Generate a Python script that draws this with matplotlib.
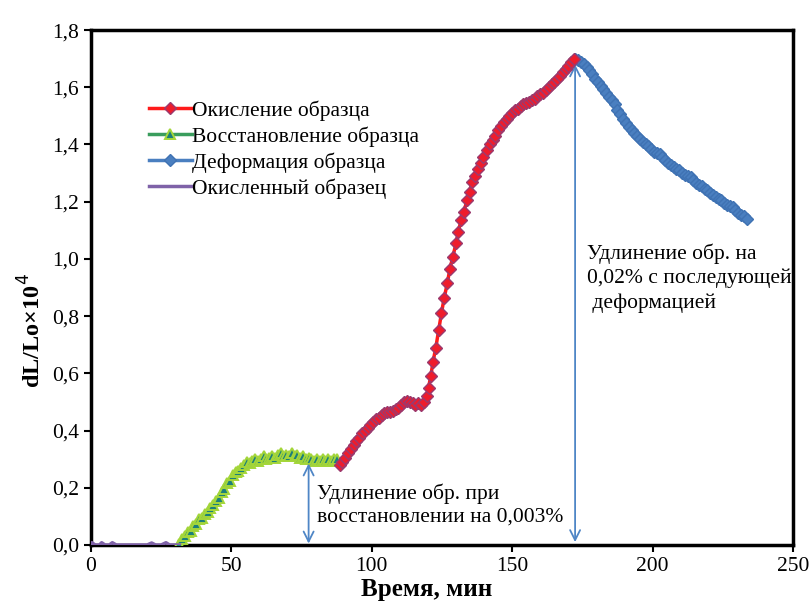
import numpy as np
import matplotlib
matplotlib.use('Agg')
import matplotlib.pyplot as plt

plt.rcParams['font.family'] = ['Liberation Serif', 'DejaVu Serif']

# ---- data ----
purple_t = [0, 0.3, 1.5, 3, 3.8, 5, 6.5, 7.6, 9, 12, 16, 20, 21.6, 23, 25, 26.7, 28, 30, 31.5]
purple_y = [0.0, 0.008, 0.0, 0.0, 0.008, 0.0, 0.0, 0.008, 0.0, 0.0, 0.0, 0.0, 0.007, 0.0, 0.0, 0.008, 0.0, 0.0, 0.0]

green_t = [31.5, 32.5, 33.5, 34.5, 35.5, 36.5, 37.5, 38.5, 39.5, 40.5, 41.5, 42.5, 43.5, 44.5,
           45.5, 46.5, 47.5, 48.5, 49.5, 50.5, 51.5, 52.5, 53.5, 54.5, 55.5, 56.5, 57.5, 58.5,
           59.5, 60.5, 61.5, 62.5, 63.5, 64.5, 65.5, 66.5, 67.5, 68.5, 69.5, 70.5, 71.5, 72.5,
           73.5, 74.5, 75.5, 76.5, 77.5, 78.5, 79.5, 80.5, 81.5, 82.5, 83.5, 84.5, 85.5, 86.5, 87.5]
green_y = [0.005, 0.02, 0.03, 0.045, 0.05, 0.065, 0.075, 0.09, 0.095, 0.11, 0.115, 0.13, 0.14, 0.155,
           0.165, 0.185, 0.195, 0.215, 0.225, 0.245, 0.255, 0.26, 0.27, 0.28, 0.29, 0.285, 0.295, 0.30,
           0.295, 0.30, 0.31, 0.30, 0.305, 0.31, 0.305, 0.315, 0.32, 0.31, 0.315, 0.31, 0.32, 0.31,
           0.315, 0.305, 0.31, 0.30, 0.305, 0.30, 0.295, 0.30, 0.295, 0.30, 0.295, 0.30, 0.295, 0.30, 0.30]

red_t = [88.5, 89.5, 90.5, 91.5, 92.5, 93.5, 94.5, 95.5, 96.5, 97.5, 98.5, 99.5, 100.5, 101.5,
         102.5, 103.5, 104.5, 105.5, 106.5, 107.5, 108.5, 109.5, 110.5, 111.5, 112.5, 113.5,
         114.5, 115.5, 116.5, 117.5, 118.5, 119.5, 120.2, 121.0, 121.8, 122.8, 123.8, 124.8,
         125.8, 126.9, 127.8, 128.8, 130.0, 130.8, 131.8, 132.8, 133.9, 134.8, 135.8, 136.9,
         137.9, 138.8, 139.7, 141, 142, 143, 144, 145, 146, 147, 148, 149, 150, 151, 152, 153,
         154, 155, 156, 157, 158, 159, 160, 161, 162, 163, 164, 165, 166, 167, 168, 169, 170, 171, 172]
red_y = [0.28, 0.29, 0.305, 0.32, 0.335, 0.35, 0.365, 0.375, 0.39, 0.40, 0.41, 0.42, 0.43, 0.44,
         0.445, 0.455, 0.46, 0.465, 0.465, 0.47, 0.475, 0.48, 0.49, 0.50, 0.505, 0.50,
         0.495, 0.49, 0.495, 0.49, 0.50, 0.52, 0.55, 0.59, 0.64, 0.69, 0.75, 0.81,
         0.865, 0.915, 0.965, 1.005, 1.055, 1.095, 1.135, 1.165, 1.205, 1.235, 1.27, 1.29,
         1.315, 1.335, 1.355, 1.38, 1.40, 1.415, 1.43, 1.45, 1.465, 1.48, 1.49, 1.50, 1.51, 1.52, 1.525, 1.535,
         1.54, 1.545, 1.55, 1.555, 1.56, 1.57, 1.575, 1.58, 1.59, 1.60, 1.61, 1.62, 1.63, 1.64, 1.655, 1.665, 1.675, 1.69, 1.70]

blue_t = [172.5, 173.5, 174.5, 175.5, 176.5, 177.5, 178.5, 179.5, 180.5, 181.5, 182.5, 183.5,
          184.5, 185.5, 186.5, 187.5, 188.5, 189.5, 190.5, 191.5, 192.5, 193.5, 194.5, 195.5,
          196.5, 197.5, 198.5, 199.5, 200.5, 201.5, 202.5, 203.5, 204.5, 205.5, 206.5, 207.5,
          208.5, 209.5, 210.5, 211.5, 212.5, 213.5, 214.5, 215.5, 216.5, 217.5, 218.5, 219.5,
          220.5, 221.5, 222.5, 223.5, 224.5, 225.5, 226.5, 227.5, 228.5, 229.5, 230.5, 231.5, 232.5, 233.5]
blue_y = [1.70, 1.695, 1.69, 1.68, 1.67, 1.66, 1.645, 1.63, 1.62, 1.605, 1.595, 1.58,
          1.565, 1.555, 1.54, 1.52, 1.505, 1.49, 1.475, 1.46, 1.45, 1.44, 1.43, 1.42,
          1.41, 1.40, 1.395, 1.385, 1.375, 1.37, 1.365, 1.355, 1.345, 1.335, 1.33, 1.32,
          1.315, 1.31, 1.30, 1.295, 1.29, 1.285, 1.275, 1.265, 1.26, 1.255, 1.245, 1.24,
          1.23, 1.225, 1.215, 1.21, 1.205, 1.195, 1.19, 1.185, 1.18, 1.17, 1.16, 1.155, 1.15, 1.14]

x_ticks = [0, 50, 100, 150, 200, 250]
y_ticks = [0.0, 0.2, 0.4, 0.6, 0.8, 1.0, 1.2, 1.4, 1.6, 1.8]

## PLOTTING
fig = plt.figure(figsize=(8.11, 6.01), dpi=100)
ax = fig.add_axes([0.1122, 0.0932, 0.8656, 0.8568])

ax.plot(red_t, red_y, color='#ff1a1a', lw=2.5, marker='D', ms=6,
        mfc='#ee1c2c', mec='#9b3a6e', mew=1.0, label='Окисление образца', zorder=4)
ax.plot(green_t, green_y, color='#3a9d5d', lw=2.5, marker='^', ms=7,
        mfc='#1c7f7a', mec='#a4d63a', mew=1.4, label='Восстановление образца', zorder=3)
ax.plot(blue_t, blue_y, color='#4a7fc0', lw=2.5, marker='D', ms=6,
        mfc='#4a7fc0', mec='#3f72b3', mew=1.0, label='Деформация образца', zorder=3)
ax.plot(purple_t, purple_y, color='#7f62a8', lw=2.5, label='Окисленный образец', zorder=3)

# double arrows
arr = dict(arrowstyle='<->', color='#4f86c6', lw=1.3, mutation_scale=18, shrinkA=0, shrinkB=0)
ax.annotate('', xy=(77.5, 0.005), xytext=(77.5, 0.285), arrowprops=arr)
ax.annotate('', xy=(172.4, 0.01), xytext=(172.4, 1.68), arrowprops=arr)

ax.text(80.5, 0.215, 'Удлинение обр. при\nвосстановлении на 0,003%', fontsize=15.5,
        va='top', ha='left', linespacing=1.27)
ax.text(176.5, 1.055, 'Удлинение обр. на\n0,02% с последующей\n деформацией', fontsize=15.5,
        va='top', ha='left', linespacing=1.35)

ax.set_xlim(0, 250)
ax.set_ylim(0, 1.8)
ax.set_xticks(x_ticks)
ax.set_xticklabels([str(v) for v in x_ticks])
ax.set_yticks(y_ticks)
ax.set_yticklabels([('%.1f' % v).replace('.', ',') for v in y_ticks])
ax.tick_params(direction='out', length=5, width=1.5, labelsize=15.5, color='black')

for s in ax.spines.values():
    s.set_linewidth(2.5)
    s.set_color('black')

ax.set_ylabel('dL/Lo×10$^4$', fontsize=17.5, fontweight='bold')
ax.yaxis.set_label_coords(-0.064, 0.417)
ax.set_xlabel('Время, мин', fontsize=18, fontweight='bold')
ax.xaxis.set_label_coords((427 - 91) / 702, -0.064)

leg = ax.legend(loc='upper left', bbox_to_anchor=(0.07, 0.880), frameon=False, fontsize=15.5,
                handlelength=2.0, handletextpad=0.0, borderaxespad=0, labelspacing=0.25)

plt.savefig('out.png', dpi=100)
plt.close(fig)
